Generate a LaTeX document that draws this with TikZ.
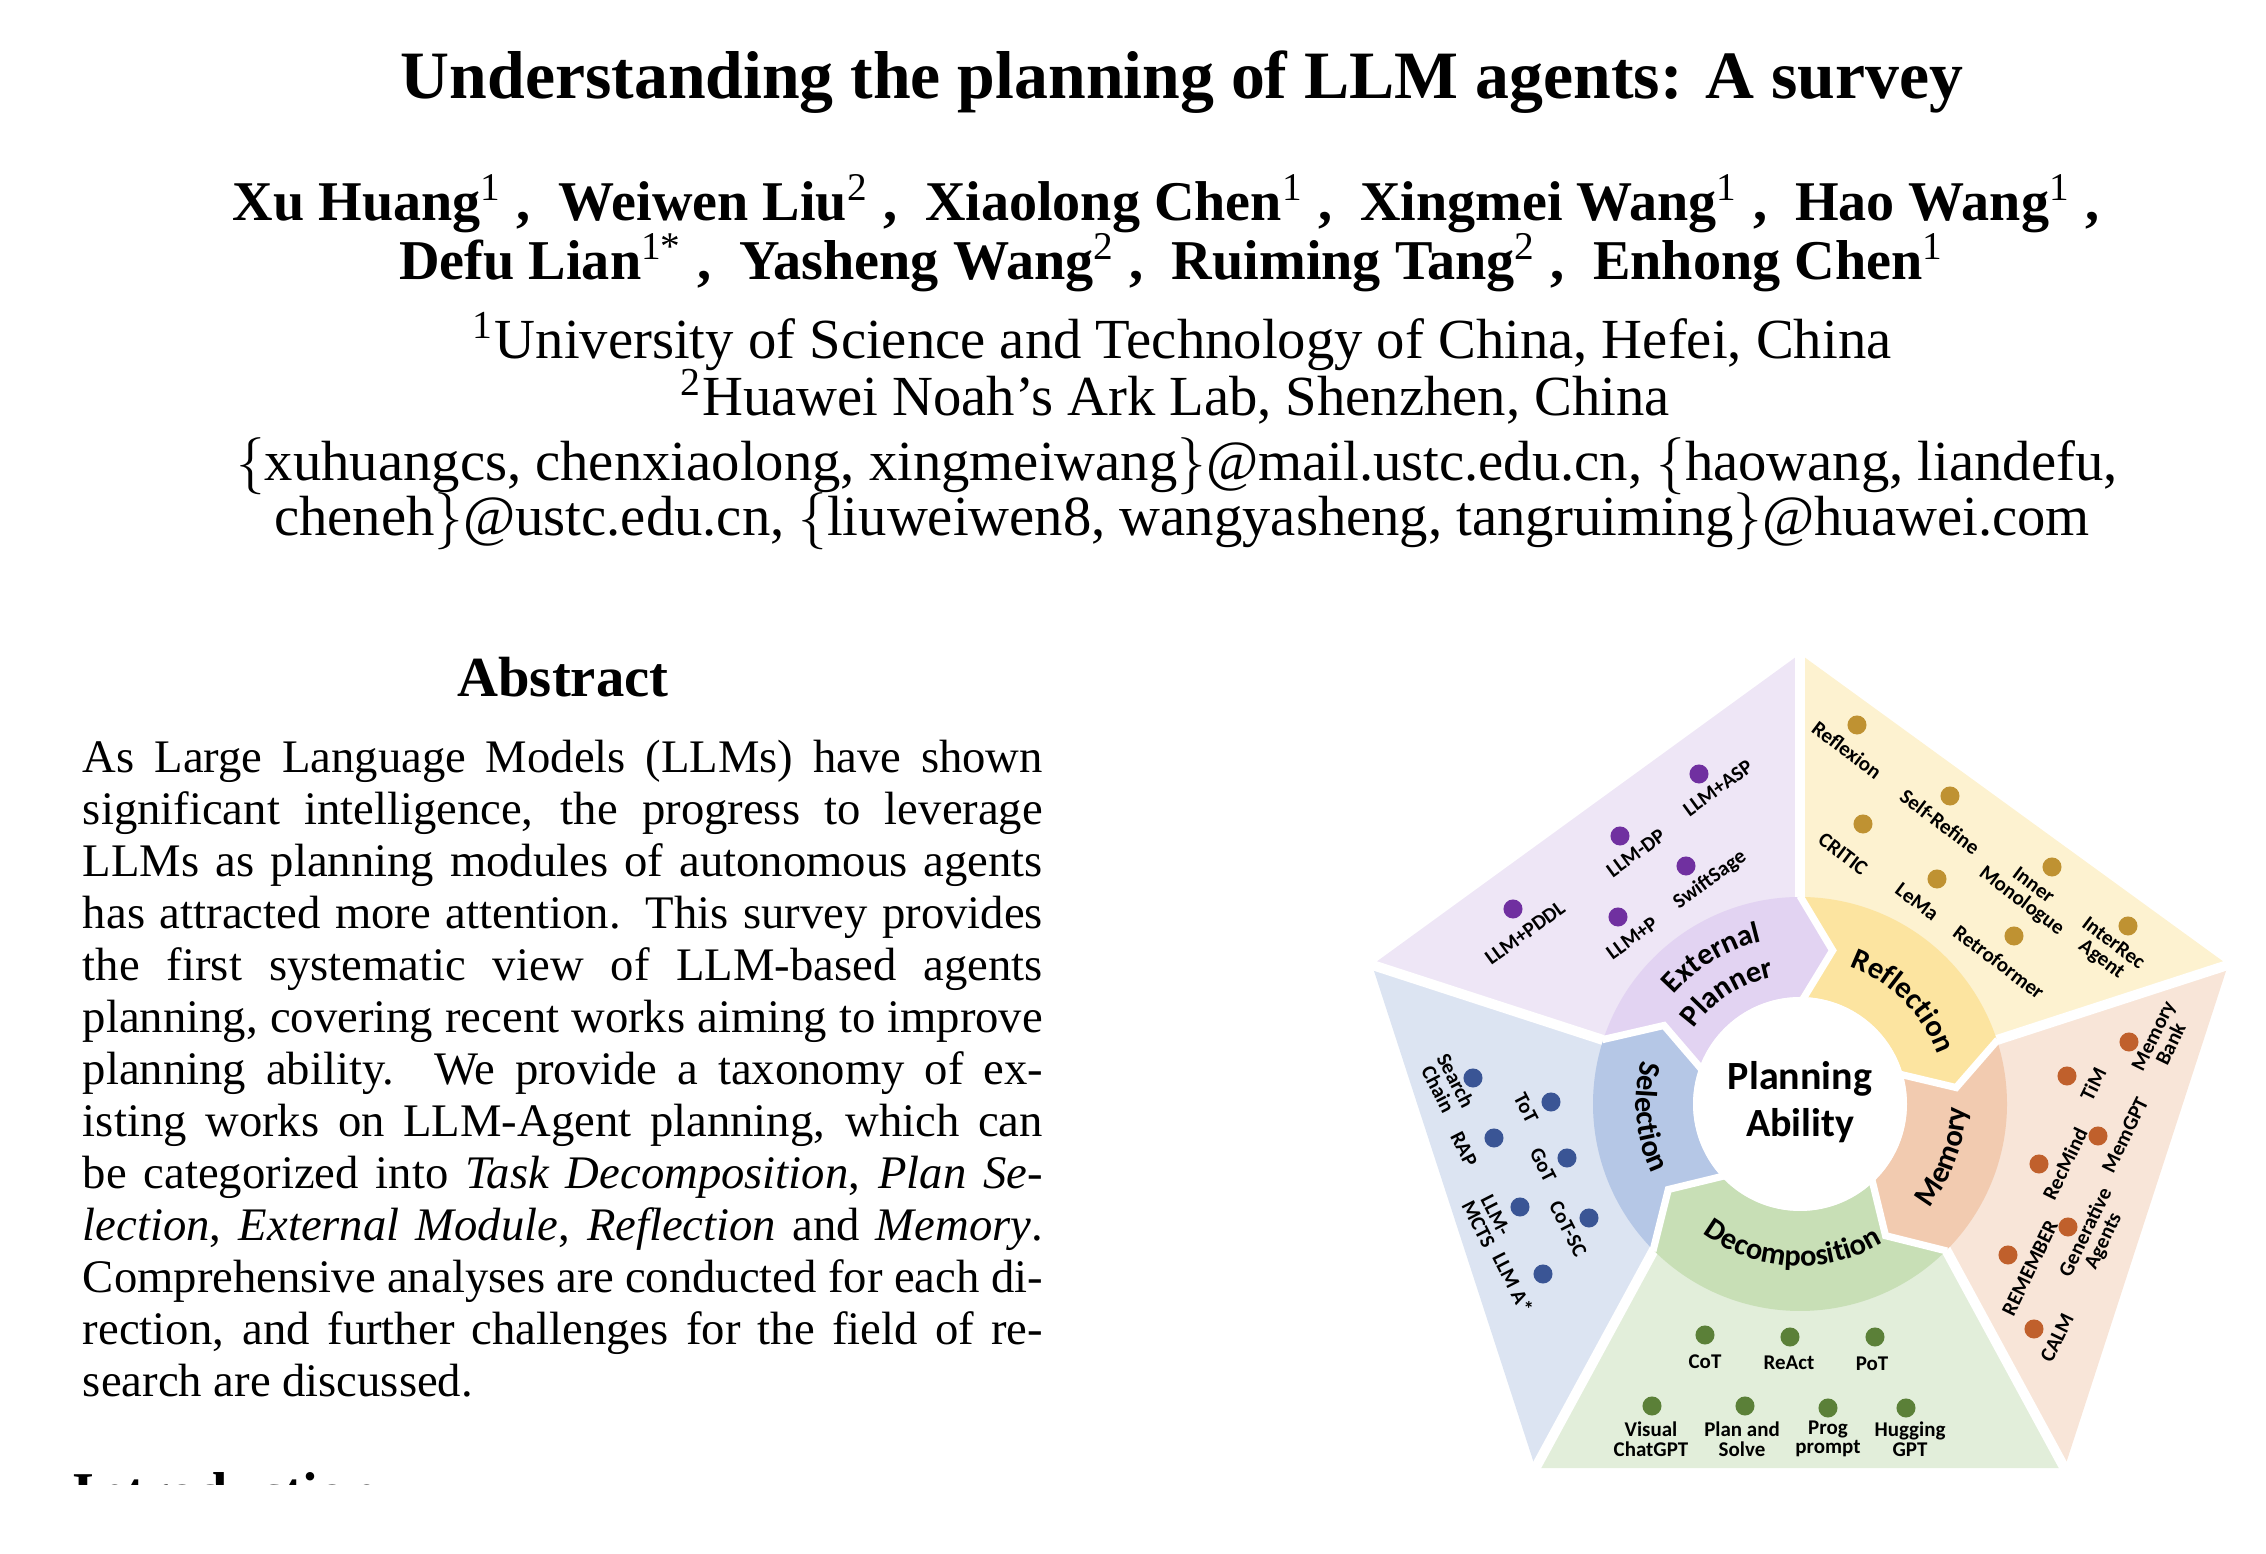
\documentclass[tikz,border=0pt]{standalone}
\usepackage{fontspec}
\setmainfont{Liberation Serif}
\newfontfamily\calibri{Carlito}
\usepackage{tikz}
\usetikzlibrary{decorations.text}

\definecolor{plight}{HTML}{EEE6F6}
\definecolor{pring}{HTML}{E2D3F2}
\definecolor{pdot}{HTML}{7030A0}
\definecolor{ylight}{HTML}{FDF2D0}
\definecolor{yring}{HTML}{FCE4A0}
\definecolor{ydot}{HTML}{BF9232}
\definecolor{olight}{HTML}{F8E5D8}
\definecolor{oring}{HTML}{F2CBB0}
\definecolor{odot}{HTML}{C0602C}
\definecolor{glight}{HTML}{E2EEDA}
\definecolor{gring}{HTML}{C8DFB6}
\definecolor{gdot}{HTML}{5B8038}
\definecolor{blight}{HTML}{DCE4F2}
\definecolor{bring}{HTML}{B5C7E6}
\definecolor{bdot}{HTML}{3A5595}

\newcommand{\ringfont}{\calibri\bfseries\fontsize{6.4pt}{7pt}\selectfont}
% curved label on the ring: radius, start angle, end angle, text
\newcommand{\ringlabel}[4]{%
  \path[decorate, decoration={text along path, text align=center,
    text={|\ringfont|#4}}]
    (#2:#1) arc[start angle=#2, end angle=#3, radius=#1];
}

\begin{document}
\begin{tikzpicture}[x=0.21pt, y=0.21pt,
    headline/.style={inner sep=0pt, anchor=base},
    itemdot/.style={circle, inner sep=0pt, minimum size=4pt},
    itemlabel/.style={font=\calibri\bfseries\fontsize{4.4pt}{4.1pt}\selectfont, align=center, inner sep=0pt}]
    \useasboundingbox (0,0) rectangle (2266,1554);

    % Title and authors
    \node[headline] (title) at (1182,1455) {\fontsize{14.23pt}{17pt}\selectfont\bfseries Understanding the planning of LLM agents: A survey};
    \node[headline] (authors1) at (1166,1333) {\fontsize{11.78pt}{14pt}\selectfont\bfseries Xu Huang\textsuperscript{\mdseries 1}\ ,\ \ Weiwen Liu\textsuperscript{\mdseries 2}\ ,\ \ Xiaolong Chen\textsuperscript{\mdseries 1}\ ,\ \ Xingmei Wang\textsuperscript{\mdseries 1}\ ,\ \ Hao Wang\textsuperscript{\mdseries 1}\ ,};
    \node[headline] (authors2) at (1172,1274) {\fontsize{11.8pt}{14pt}\selectfont\bfseries Defu Lian\textsuperscript{\mdseries 1*}\ ,\ \ Yasheng Wang\textsuperscript{\mdseries 2}\ ,\ \ Ruiming Tang\textsuperscript{\mdseries 2}\ ,\ \ Enhong Chen\textsuperscript{\mdseries 1}};
    \node[headline] (affil1) at (1182,1195) {\fontsize{11.9pt}{14pt}\selectfont\textsuperscript{1}University of Science and Technology of China, Hefei, China};
    \node[headline] (affil2) at (1175,1138) {\fontsize{11.9pt}{14pt}\selectfont\textsuperscript{2}Huawei Noah’s Ark Lab, Shenzhen, China};
    \node[headline] (mail1) at (1177,1073) {\fontsize{11.9pt}{14pt}\selectfont $\{$xuhuangcs, chenxiaolong, xingmeiwang$\}$@mail.ustc.edu.cn, $\{$haowang, liandefu,};
    \node[headline] (mail2) at (1182,1018) {\fontsize{11.9pt}{14pt}\selectfont cheneh$\}$@ustc.edu.cn, $\{$liuweiwen8, wangyasheng, tangruiming$\}$@huawei.com};

    % Abstract
    \node[headline] (abshead) at (563,857) {\fontsize{11.9pt}{14pt}\selectfont\bfseries Abstract};
    \node[anchor=base west, inner sep=0pt] (abstract) at (82,781) {\parbox[t]{201.6pt}{\fontsize{9.8pt}{10.92pt}\selectfont
        \makebox[\linewidth][s]{As Large Language Models (LLMs) have shown}\\
        \makebox[\linewidth][s]{significant intelligence, the progress to leverage}\\
        \makebox[\linewidth][s]{LLMs as planning modules of autonomous agents}\\
        \makebox[\linewidth][s]{has attracted more attention. This survey provides}\\
        \makebox[\linewidth][s]{the first systematic view of LLM-based agents}\\
        \makebox[\linewidth][s]{planning, covering recent works aiming to improve}\\
        \makebox[\linewidth][s]{planning ability. We provide a taxonomy of ex-}\\
        \makebox[\linewidth][s]{isting works on LLM-Agent planning, which can}\\
        \makebox[\linewidth][s]{be categorized into \textit{Task Decomposition}, \textit{Plan Se-}}\\
        \makebox[\linewidth][s]{\textit{lection}, \textit{External Module}, \textit{Reflection} and \textit{Memory}.}\\
        \makebox[\linewidth][s]{Comprehensive analyses are conducted for each di-}\\
        \makebox[\linewidth][s]{rection, and further challenges for the field of re-}\\
        search are discussed.}};

    % Introduction heading, cut at the lower edge
    \begin{scope}
        \clip (0,69) rectangle (700,120);
        \node[anchor=base west, inner sep=0pt] (intro) at (72,42) {\fontsize{11.8pt}{14pt}\selectfont\bfseries Introduction};
    \end{scope}

    % Pentagon
    \begin{scope}[shift={(1800,450)}]
        % outer sectors
        \fill[plight] (0,0) -- (162:450) -- (90:450) -- cycle;
        \fill[ylight] (0,0) -- (90:450) -- (18:450) -- cycle;
        \fill[olight] (0,0) -- (18:450) -- (306:450) -- (-45:207) -- cycle;
        \fill[glight] (0,0) -- (-45:207) -- (306:450) -- (234:450) -- (225:207) -- cycle;
        \fill[blight] (0,0) -- (225:207) -- (234:450) -- (162:450) -- cycle;
        \draw[white, line width=2.1pt] (90:200) -- (90:460);
        \draw[white, line width=2.1pt] (18:200) -- (18:460);
        \draw[white, line width=2.1pt] (-45:200) -- (-45:207) -- (306:450) -- (306:460);
        \draw[white, line width=2.1pt] (225:200) -- (225:207) -- (234:450) -- (234:460);
        \draw[white, line width=2.1pt] (162:200) -- (162:460);

        % ring
        \fill[pring] (162:207) arc[start angle=162, end angle=90, radius=207] -- (78:157) -- (90:107) arc[start angle=90, end angle=162, radius=107] -- (150:157) -- cycle;
        \fill[yring] (90:207) arc[start angle=90, end angle=18, radius=207] -- (6:157) -- (18:107) arc[start angle=18, end angle=90, radius=107] -- (78:157) -- cycle;
        \fill[oring] (18:207) arc[start angle=18, end angle=-45, radius=207] -- (-57:157) -- (-45:107) arc[start angle=-45, end angle=18, radius=107] -- (6:157) -- cycle;
        \fill[gring] (315:207) arc[start angle=315, end angle=225, radius=207] -- (213:157) -- (225:107) arc[start angle=225, end angle=315, radius=107] -- (303:157) -- cycle;
        \fill[bring] (225:207) arc[start angle=225, end angle=162, radius=207] -- (150:157) -- (162:107) arc[start angle=162, end angle=225, radius=107] -- (213:157) -- cycle;
        \draw[white, line width=1.5pt] (90:208) -- (78:157) -- (90:100);
        \draw[white, line width=1.5pt] (18:208) -- (6:157) -- (18:100);
        \draw[white, line width=1.5pt] (-45:208) -- (-57:157) -- (-45:100);
        \draw[white, line width=1.5pt] (225:208) -- (213:157) -- (225:100);
        \draw[white, line width=1.5pt] (162:208) -- (150:157) -- (162:100);

        % centre
        \fill[white] (0,0) circle[radius=107];
        \node[align=center, font=\calibri\bfseries\fontsize{8.4pt}{9.87pt}\selectfont] (core) at (0,2) {Planning\\Ability};

        % ring labels
        \ringlabel{167}{176}{66}{External}
        \ringlabel{130}{178}{68}{Planner}
        \ringlabel{146}{100}{-10}{Reflection}
        \ringlabel{166}{-75}{35}{Memory}
        \ringlabel{162}{197}{337}{Decomposition}
        \ringlabel{164}{130}{240}{Selection}
    \end{scope}

    % External Planner
    \node[itemdot, fill=pdot] (pddl) at (1513,645) {};
    \node[itemlabel, rotate=36] (pddl-l) at (1525,621) {LLM+PDDL};
    \node[itemdot, fill=pdot] (dp) at (1620,718) {};
    \node[itemlabel, rotate=36] (dp-l) at (1636,701) {LLM-DP};
    \node[itemdot, fill=pdot] (asp) at (1699,780) {};
    \node[itemlabel, rotate=36] (asp-l) at (1718,766) {LLM+ASP};
    \node[itemdot, fill=pdot] (swift) at (1686,688) {};
    \node[itemlabel, rotate=36] (swift-l) at (1710,674) {SwiftSage};
    \node[itemdot, fill=pdot] (llmp) at (1618,637) {};
    \node[itemlabel, rotate=36] (llmp-l) at (1632,616) {LLM+P};

    % Reflection
    \node[itemdot, fill=ydot] (reflexion) at (1857,829) {};
    \node[itemlabel, rotate=-37] (reflexion-l) at (1847,804) {Reflexion};
    \node[itemdot, fill=ydot] (refine) at (1950,758) {};
    \node[itemlabel, rotate=-37] (refine-l) at (1940,732) {Self-Refine};
    \node[itemdot, fill=ydot] (critic) at (1863,730) {};
    \node[itemlabel, rotate=-37] (critic-l) at (1843,700) {CRITIC};
    \node[itemdot, fill=ydot] (lema) at (1937,675) {};
    \node[itemlabel, rotate=-37] (lema-l) at (1917,652) {LeMa};
    \node[itemdot, fill=ydot] (inner) at (2052,687) {};
    \node[itemlabel, rotate=-37] (inner-l) at (2027,660) {Inner\\Monologue};
    \node[itemdot, fill=ydot] (retro) at (2014,618) {};
    \node[itemlabel, rotate=-37] (retro-l) at (1999,592) {Retroformer};
    \node[itemdot, fill=ydot] (interrec) at (2128,628) {};
    \node[itemlabel, rotate=-37] (interrec-l) at (2107,602) {InterRec\\Agent};

    % Memory
    \node[itemdot, fill=odot] (bank) at (2129,512) {};
    \node[itemlabel, rotate=64] (bank-l) at (2162,514) {Memory\\Bank};
    \node[itemdot, fill=odot] (tim) at (2067,478) {};
    \node[itemlabel, rotate=64] (tim-l) at (2093,470) {TiM};
    \node[itemdot, fill=odot] (memgpt) at (2098,418) {};
    \node[itemlabel, rotate=64] (memgpt-l) at (2125,419) {MemGPT};
    \node[itemdot, fill=odot] (recmind) at (2039,390) {};
    \node[itemlabel, rotate=64] (recmind-l) at (2065,390) {RecMind};
    \node[itemdot, fill=odot] (gen) at (2068,327) {};
    \node[itemlabel, rotate=64] (gen-l) at (2095,317) {Generative\\Agents};
    \node[itemdot, fill=odot] (remember) at (2008,299) {};
    \node[itemlabel, rotate=64] (remember-l) at (2030,286) {REMEMBER};
    \node[itemdot, fill=odot] (calm) at (2034,225) {};
    \node[itemlabel, rotate=64] (calm-l) at (2057,216) {CALM};

    % Decomposition
    \node[itemdot, fill=gdot] (cot) at (1705,219) {};
    \node[itemlabel] (cot-l) at (1705,192) {CoT};
    \node[itemdot, fill=gdot] (react) at (1790,217) {};
    \node[itemlabel] (react-l) at (1789,191) {ReAct};
    \node[itemdot, fill=gdot] (pot) at (1875,217) {};
    \node[itemlabel] (pot-l) at (1872,190) {PoT};
    \node[itemdot, fill=gdot] (visual) at (1652,148) {};
    \node[itemlabel] (visual-l) at (1651,115) {Visual\\ChatGPT};
    \node[itemdot, fill=gdot] (plan) at (1745,148) {};
    \node[itemlabel] (plan-l) at (1742,115) {Plan and\\Solve};
    \node[itemdot, fill=gdot] (prog) at (1828,146) {};
    \node[itemlabel] (prog-l) at (1828,115) {Prog\\prompt};
    \node[itemdot, fill=gdot] (hugging) at (1906,146) {};
    \node[itemlabel] (hugging-l) at (1910,115) {Hugging\\GPT};

    % Selection
    \node[itemdot, fill=bdot] (search) at (1473,476) {};
    \node[itemlabel, rotate=-63] (search-l) at (1447,469) {Search\\Chain};
    \node[itemdot, fill=bdot] (tot) at (1551,452) {};
    \node[itemlabel, rotate=-63] (tot-l) at (1526,446) {ToT};
    \node[itemdot, fill=bdot] (rap) at (1494,416) {};
    \node[itemlabel, rotate=-63] (rap-l) at (1464,405) {RAP};
    \node[itemdot, fill=bdot] (got) at (1567,396) {};
    \node[itemlabel, rotate=-63] (got-l) at (1543,389) {GoT};
    \node[itemdot, fill=bdot] (mcts) at (1520,347) {};
    \node[itemlabel, rotate=-63] (mcts-l) at (1487,334) {LLM-\\MCTS};
    \node[itemdot, fill=bdot] (cotsc) at (1589,336) {};
    \node[itemlabel, rotate=-63] (cotsc-l) at (1568,325) {CoT-SC};
    \node[itemdot, fill=bdot] (astar) at (1543,280) {};
    \node[itemlabel, rotate=-63] (astar-l) at (1513,271) {LLM A*};
\end{tikzpicture}
\end{document}
